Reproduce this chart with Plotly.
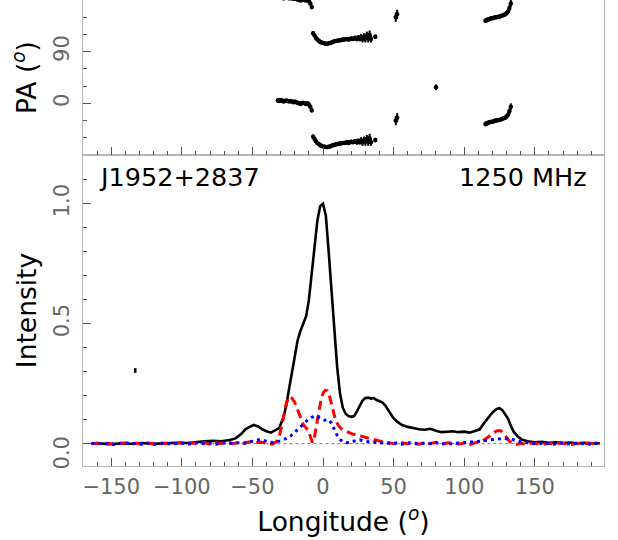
import plotly.graph_objects as go

# ---------------- data ----------------
lon_I = [-164, -160, -152, -144, -136, -128, -120, -112, -104, -96, -90, -84, -78, -72, -66, -62, -58, -55, -52, -49,
         -46, -43, -40, -37, -34, -31, -28, -26, -24, -22, -20, -18, -16, -14, -12, -10, -8, -6, -4, -2,
         0, 2, 4, 6, 8, 10, 12, 14, 16, 18, 20, 22, 24, 26, 28, 30, 32, 34, 36, 38,
         40, 42, 44, 46, 48, 50, 53, 56, 60, 64, 68, 72, 76, 80, 84, 88, 92, 96, 100, 104,
         108, 111, 114, 117, 120, 123, 125, 127, 129, 131, 133, 135, 138, 141, 145, 150, 155, 160, 165, 170,
         175, 180, 185, 190, 196]
val_I = [0.000, 0.002, -0.002, 0.001, 0.000, 0.003, -0.001, 0.002, 0.004, 0.003, 0.008, 0.010, 0.012, 0.010, 0.015, 0.022, 0.040, 0.060, 0.070, 0.078,
         0.072, 0.060, 0.052, 0.046, 0.055, 0.066, 0.110, 0.160, 0.230, 0.300, 0.360, 0.430, 0.470, 0.500, 0.530, 0.600, 0.700, 0.820, 0.930, 0.990,
         1.000, 0.950, 0.800, 0.640, 0.460, 0.320, 0.210, 0.150, 0.125, 0.115, 0.112, 0.115, 0.135, 0.160, 0.180, 0.190, 0.192, 0.188, 0.190, 0.182,
         0.178, 0.172, 0.160, 0.140, 0.120, 0.105, 0.090, 0.078, 0.070, 0.064, 0.060, 0.058, 0.062, 0.054, 0.048, 0.050, 0.052, 0.048, 0.050, 0.046,
         0.055, 0.060, 0.085, 0.110, 0.130, 0.145, 0.148, 0.140, 0.125, 0.105, 0.075, 0.050, 0.030, 0.016, 0.010, 0.006, 0.008, 0.004, 0.006, 0.003,
         0.005, 0.002, 0.004, 0.001, 0.002]

lon_L = [-164, -160, -156, -152, -148, -144, -140, -136, -132, -128, -124, -120, -116, -112, -108, -104, -100, -96, -92, -88,
         -84, -80, -76, -72, -68, -64, -60, -56, -52, -48, -44, -40, -36, -33, -31, -29, -27.5, -26, -24, -22,
         -20, -18, -16, -14, -12, -10.5, -9, -7.5, -6, -4.5, -3, -1.5, 0, 1.5, 3, 4.5, 6, 7.5, 9, 11,
         13, 15, 17, 19, 21, 24, 27, 30, 33, 36, 39, 42, 45, 48, 52, 56, 60, 64, 68, 72,
         76, 80, 84, 88, 92, 96, 100, 104, 108, 111, 114, 117, 120, 122, 124, 126, 128, 130, 132, 134,
         137, 140, 144, 148, 152, 156, 160, 164, 168, 172, 176, 180, 184, 188, 192, 196]
val_L = [0.000, 0.003, -0.002, 0.002, -0.003, 0.001, 0.004, -0.002, 0.002, -0.003, 0.002, 0.000, -0.003, 0.003, -0.002, 0.002, 0.004, -0.002, 0.003, 0.000,
         0.005, -0.002, 0.004, 0.001, 0.006, 0.000, 0.005, 0.002, 0.008, 0.004, 0.006, 0.001, -0.002, 0.008, 0.030, 0.080, 0.130, 0.170, 0.196, 0.190,
         0.172, 0.140, 0.105, 0.080, 0.065, 0.055, 0.030, 0.005, 0.030, 0.080, 0.130, 0.180, 0.210, 0.222, 0.220, 0.200, 0.165, 0.125, 0.095, 0.075,
         0.062, 0.055, 0.050, 0.045, 0.040, 0.036, 0.031, 0.026, 0.020, 0.016, 0.012, 0.008, 0.006, 0.002, -0.002, 0.004, 0.000, 0.005, -0.002, 0.004,
         0.001, 0.006, -0.002, 0.003, 0.005, -0.001, 0.002, -0.003, 0.004, 0.008, 0.015, 0.028, 0.042, 0.050, 0.055, 0.053, 0.042, 0.025, 0.010, 0.002,
         -0.003, 0.002, -0.002, 0.003, 0.000, -0.003, 0.002, -0.002, 0.003, 0.000, -0.003, 0.002, -0.002, 0.003, -0.001, 0.001]

lon_V = [-164, -160, -156, -152, -148, -144, -140, -136, -132, -128, -124, -120, -116, -112, -108, -104, -100, -96, -92, -88,
         -84, -80, -76, -72, -68, -64, -60, -56, -53, -50, -47, -44, -41, -38, -35, -32, -29, -26, -23, -20,
         -17, -14, -11, -8, -5, -2, 1, 4, 6, 8, 10, 12, 14, 17, 20, 23, 26, 29, 32, 36,
         40, 44, 48, 52, 56, 60, 64, 68, 72, 76, 80, 84, 88, 92, 96, 100, 104, 108, 112, 116,
         120, 124, 128, 132, 136, 140, 144, 148, 152, 156, 160, 164, 168, 172, 176, 180, 184, 188, 192, 196]
val_V = [0.002, -0.002, 0.003, 0.000, -0.003, 0.002, 0.004, -0.001, 0.002, -0.002, 0.003, -0.003, 0.001, 0.004, -0.002, 0.000, 0.003, -0.002, 0.002, 0.004,
         0.000, 0.003, -0.002, 0.002, 0.005, 0.001, 0.004, 0.002, 0.006, 0.010, 0.016, 0.018, 0.012, 0.006, 0.004, 0.008, 0.014, 0.022, 0.032, 0.048,
         0.065, 0.082, 0.098, 0.110, 0.117, 0.105, 0.098, 0.100, 0.085, 0.060, 0.035, 0.018, 0.008, 0.004, 0.008, 0.012, 0.016, 0.012, 0.008, 0.006,
         0.003, 0.004, 0.000, 0.003, -0.002, 0.004, 0.001, -0.002, 0.003, 0.000, 0.004, -0.001, 0.002, -0.002, 0.003, 0.004, 0.006, 0.008, 0.010, 0.014,
         0.018, 0.020, 0.022, 0.020, 0.015, 0.008, 0.004, 0.001, -0.002, 0.003, 0.000, -0.002, 0.003, 0.001, -0.002, 0.002, 0.000, -0.002, 0.003, 0.000]

zero_lon = [-164, 196]
zero_val = [0.0, 0.0]

noise_lon = [-133]
noise_val = [0.305]
noise_err = [0.010]

# polarisation position angle (deg) with errors
pa_lon = [-32, -31, -30, -29, -28, -27, -26, -25, -24, -23, -22, -21, -20, -19, -18, -17, -16, -15, -14, -13,
          -12, -11, -10, -9, -8,
          -7, -6, -5, -4, -3, -2, -1, 0, 1, 2, 3, 4, 5, 6, 7, 8, 9, 10, 11, 12,
          13, 14, 15, 16, 17, 18, 19, 20, 21, 22, 23, 24, 25, 26, 27, 28, 29, 30, 31, 32,
          33, 34, 37,
          51.5, 52.5, 80,
          115, 116, 117, 118, 119, 120, 121, 122, 123, 124, 125, 126, 127, 128, 129, 130, 131, 132, 133]
pa_val = [5, 4, 6, 5, 3, 4, 5, 4, 3, 4, 3, 2, 3, 2, 1, 0, -1, 0, 1, 0,
          -1, 0, -2, -6, -12,
          122, 118, 114, 111, 109, 107, 106, 105, 104.5, 104, 104, 104.5, 105, 106, 107, 108, 108.5, 109, 109.5, 110,
          110.5, 111, 111, 111.5, 112, 111, 112, 113, 112, 113, 114, 112, 114, 113, 115, 112, 116, 113, 118, 114,
          119, 112, 116,
          150, 155, 28,
          144, 145, 146, 147, 148, 148, 149, 150, 150, 151, 151, 152, 153, 154, 155, 157, 160, 166, 174]
pa_err = [4, 3, 3, 2, 2, 2, 2, 2, 2, 2, 2, 2, 2, 2, 2, 2, 2, 2, 2, 2,
          2, 2, 3, 3, 4,
          4, 3, 3, 2, 2, 2, 2, 2, 2, 2, 2, 2, 2, 2, 2, 2, 2, 2, 2, 2,
          2, 2, 2, 2, 3, 3, 3, 3, 3, 4, 4, 4, 5, 5, 6, 6, 6, 7, 7, 8,
          8, 6, 4,
          8, 8, 5,
          4, 4, 4, 3, 3, 3, 3, 3, 3, 3, 3, 3, 3, 3, 3, 4, 4, 5, 6]

int_tickvals = [0, 0.5, 1.0]
int_ticktext = ["0.0", "0.5", "1.0"]
pa_tickvals = [0, 90]
pa_ticktext = ["0", "90"]

source_name = "J1952+2837"
freq_label = "1250 MHz"

# ---------------- figure ----------------
FONT = "DejaVu Sans"
BORDER = "#b5b5b5"
TICKC = "#555555"
LBLC = "#666666"

fig = go.Figure()

fig.add_trace(go.Scatter(x=zero_lon, y=zero_val, mode="lines",
                         line=dict(color="#c040c0", width=1, dash="dot"),
                         xaxis="x", yaxis="y", showlegend=False))
fig.add_trace(go.Scatter(x=lon_I, y=val_I, mode="lines",
                         line=dict(color="black", width=2.6),
                         xaxis="x", yaxis="y", showlegend=False))
fig.add_trace(go.Scatter(x=lon_L, y=val_L, mode="lines",
                         line=dict(color="red", width=3, dash="9px,5px"),
                         xaxis="x", yaxis="y", showlegend=False))
fig.add_trace(go.Scatter(x=lon_V, y=val_V, mode="lines",
                         line=dict(color="blue", width=3, dash="3px,4px"),
                         xaxis="x", yaxis="y", showlegend=False))
fig.add_trace(go.Scatter(x=noise_lon, y=noise_val, mode="markers",
                         marker=dict(size=1, color="black"),
                         error_y=dict(type="data", array=noise_err, color="black", thickness=2.5, width=0),
                         xaxis="x", yaxis="y", showlegend=False))

pa_all_lon = pa_lon * 3
pa_all_val = pa_val + [v + 180 for v in pa_val] + [v - 180 for v in pa_val]
pa_all_err = pa_err * 3
fig.add_trace(go.Scatter(x=pa_all_lon, y=pa_all_val, mode="markers",
                         marker=dict(size=4.5, color="black"),
                         error_y=dict(type="data", array=pa_all_err, color="black", thickness=2, width=0),
                         xaxis="x2", yaxis="y2", showlegend=False, cliponaxis=True))

split = 311 / 466
xrange_ = [-170, 199]

common_x = dict(range=xrange_, showline=True, mirror=True, linecolor=BORDER, linewidth=1.3,
                ticks="inside", ticklen=8, tickwidth=1.2, tickcolor=TICKC,
                tick0=0, dtick=50, showgrid=False, zeroline=False, automargin=False,
                minor=dict(ticks="inside", ticklen=4, tickwidth=1, tickcolor=TICKC, dtick=10, showgrid=False))

# the lowest intensity label sits a little below its tick in the reference
int_labels_axis = [t if v != 0 else "" for v, t in zip(int_tickvals, int_ticktext)]
zero_label = [t for v, t in zip(int_tickvals, int_ticktext) if v == 0][0]

fig.update_layout(
    width=618, height=540,
    margin=dict(l=83, r=14, t=0, b=74),
    paper_bgcolor="white", plot_bgcolor="white",
    font=dict(family=FONT, color="black"),
    xaxis=dict(**common_x, anchor="y", domain=[0, 1],
               tickfont=dict(size=21, color=LBLC), ticklabelstandoff=2,
               title=dict(text="Longitude (<sup><i>o</i></sup>)", font=dict(size=26.5, color="black"), standoff=14)),
    yaxis=dict(domain=[0, split], range=[-0.093, 1.203], anchor="x", automargin=False,
               showline=True, mirror=True, linecolor=BORDER, linewidth=1.3,
               tickmode="array", tickvals=int_tickvals, ticktext=int_labels_axis,
               ticks="inside", ticklen=8, tickwidth=1.2, tickcolor=TICKC, tickangle=-90,
               tickfont=dict(size=21, color=LBLC), showgrid=False, zeroline=False, ticklabelstandoff=4,
               minor=dict(ticks="inside", ticklen=4, tickwidth=1, tickcolor=TICKC,
                          tickvals=[0.1, 0.2, 0.3, 0.4, 0.6, 0.7, 0.8, 0.9, 1.1], showgrid=False),
               title=dict(text="Intensity", font=dict(size=26.5, color="black"), standoff=6)),
    xaxis2=dict(**common_x, anchor="y2", matches="x", showticklabels=False),
    yaxis2=dict(domain=[split, 1], range=[-90, 180], anchor="x2", automargin=False,
                showline=True, mirror=True, linecolor=BORDER, linewidth=1.3,
                tickmode="array", tickvals=pa_tickvals, ticktext=pa_ticktext,
                ticks="inside", ticklen=8, tickwidth=1.2, tickcolor=TICKC, tickangle=-90,
                tickfont=dict(size=21, color=LBLC), showgrid=False, zeroline=False, ticklabelstandoff=4,
                minor=dict(ticks="inside", ticklen=4, tickwidth=1, tickcolor=TICKC,
                           tickvals=[-60, -30, 30, 60, 120, 150], showgrid=False),
                title=dict(text="PA (<sup><i>o</i></sup>)", font=dict(size=26.5, color="black"), standoff=6)),
    annotations=[
        dict(text=source_name, xref="x domain", yref="y domain", x=0.026, y=0.985,
             xanchor="left", yanchor="top", showarrow=False, font=dict(size=25.5, color="black")),
        dict(text=freq_label, xref="x domain", yref="y domain", x=0.972, y=0.985,
             xanchor="right", yanchor="top", showarrow=False, font=dict(size=25.5, color="black")),
        dict(text=zero_label, xref="paper", yref="y", x=-0.04, y=-0.04, textangle=-90,
             xanchor="center", yanchor="middle", showarrow=False, font=dict(size=21, color=LBLC)),
    ],
)

fig.write_html("out.html", config={"displayModeBar": False},
               post_script="document.body.style.margin='0';document.body.style.overflow='hidden';")
